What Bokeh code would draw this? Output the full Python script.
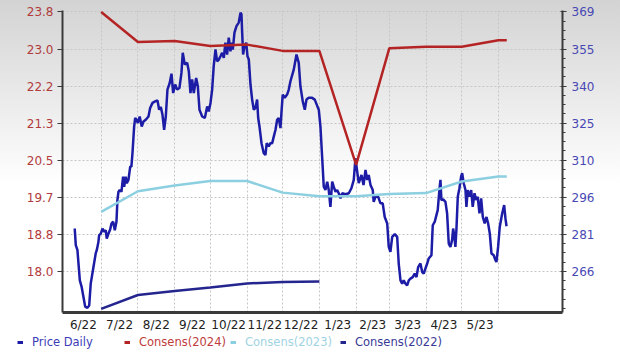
import numpy as np
import pandas as pd
from bokeh.plotting import figure
from bokeh.models import (Range1d, LinearAxis, FixedTicker, Legend, LegendItem,
                          InlineStyleSheet, ColumnDataSource)
from bokeh.core.properties import value
from bokeh.embed import file_html
from bokeh.resources import INLINE

# ---------------- data ----------------
BASE_DATE = "2022-07-01"   # price_day counts days after this date

price_day = [
    -22.3, -21.4, -20.0, -18.0, -16.4, -13.5, -11.6, -10.1, -8.8, -6.7,
    -4.6, -3.7, -2.3, -1.7, -0.3, 1.1, 2.5, 3.9, 4.7, 6.2,
    7.6, 8.7, 10.1, 11.5, 12.9, 13.7, 14.6, 15.7, 17.1, 18.5,
    19.4, 20.7, 21.6, 23.0, 24.5, 25.5, 26.4, 27.8, 28.7, 29.8,
    30.9, 32.5, 34.2, 35.7, 37.6, 39.9, 41.3, 43.3, 45.5, 47.5,
    48.9, 50.3, 51.7, 53.1, 54.5, 55.9, 57.8, 59.3, 60.7, 62.4,
    64.1, 66.0, 67.7, 68.8, 70.5, 72.5, 73.9, 75.3, 76.7, 78.1,
    80.1, 81.5, 82.9, 85.2, 87.4, 89.4, 90.7, 92.2, 93.6, 94.9,
    96.4, 97.8, 99.2, 100.6, 102.0, 103.4, 104.8, 106.2, 107.6, 109.0,
    109.9, 111.0, 112.4, 114.1, 116.0, 117.5, 118.3, 118.9, 119.7, 120.8,
    122.3, 123.4, 124.5, 125.9, 127.3, 128.7, 130.1, 131.5, 132.4, 133.5,
    135.2, 137.1, 138.5, 139.6, 141.3, 142.7, 144.2, 145.9, 147.0, 148.4,
    149.7, 151.2, 152.0, 153.1, 154.8, 156.8, 158.2, 159.6, 162.4, 164.7,
    166.6, 168.0, 170.0, 171.7, 173.1, 175.0, 177.9, 180.1, 182.1, 183.5,
    184.9, 186.3, 187.7, 189.1, 190.6, 191.9, 193.3, 194.8, 196.1, 197.6,
    199.0, 200.3, 201.8, 203.2, 206.0, 208.8, 211.0, 213.0, 214.4, 215.9,
    217.2, 219.5, 221.2, 222.9, 224.3, 225.6, 227.1, 229.0, 229.8, 231.3,
    233.6, 235.5, 237.4, 239.1, 241.2, 242.5, 243.9, 245.4, 247.6, 249.6,
    250.9, 252.4, 253.8, 255.1, 256.6, 258.0, 259.4, 260.8, 262.7, 264.4,
    265.9, 267.3, 269.2, 270.7, 272.0, 273.4, 274.9, 276.2, 278.5, 279.6,
    281.3, 282.7, 283.8, 285.2, 286.1, 286.9, 288.4, 290.3, 291.7, 293.1,
    294.5, 295.9, 296.8, 297.9, 298.7, 299.6, 300.7, 302.1, 303.5, 304.4,
    305.7, 307.2, 308.0, 309.1, 310.5, 312.0, 313.3, 314.8, 316.2, 317.5,
    319.0, 320.4, 321.8, 323.4, 324.9, 326.3, 327.7, 329.1, 331.0, 332.5,
    333.3, 334.7, 336.1, 338.1, 339.8, 340.9, 341.8,
]
price = [
    283.0, 276.4, 274.4, 262.4, 259.7, 252.0, 251.5, 252.4, 261.1, 267.1,
    273.1, 274.4, 277.7, 280.4, 281.0, 283.0, 281.7, 282.3, 279.0, 281.0,
    282.6, 285.0, 285.7, 282.3, 285.7, 294.3, 297.6, 298.3, 297.6, 303.6,
    299.6, 303.6, 301.0, 302.3, 307.6, 307.6, 312.9, 323.5, 326.9, 326.2,
    324.9, 327.5, 323.5, 325.5, 326.2, 327.5, 330.9, 332.9, 333.5, 333.9,
    330.2, 331.3, 328.2, 322.2, 327.5, 338.2, 340.8, 344.5, 336.8, 340.2,
    338.2, 338.8, 344.8, 352.8, 348.1, 348.8, 345.5, 336.8, 342.2, 336.8,
    342.8, 339.5, 330.2, 327.5, 326.9, 331.5, 329.5, 332.9, 338.2, 347.5,
    354.1, 349.4, 350.1, 351.4, 352.8, 350.8, 356.8, 352.1, 358.8, 353.4,
    356.8, 354.1, 360.8, 363.4, 364.8, 368.7, 368.1, 360.8, 352.1, 355.4,
    356.8, 351.4, 350.1, 340.2, 334.2, 330.2, 330.9, 334.2, 326.9, 323.5,
    316.9, 312.9, 312.2, 316.9, 315.6, 316.9, 316.9, 320.2, 322.2, 326.2,
    326.9, 322.9, 328.9, 336.2, 334.9, 336.2, 338.2, 341.5, 346.1, 352.1,
    348.8, 339.5, 333.5, 330.2, 334.2, 334.9, 334.9, 334.2, 331.8, 330.2,
    323.5, 311.6, 299.6, 298.3, 301.6, 298.3, 291.6, 301.6, 299.6, 297.6,
    298.3, 297.0, 295.0, 297.0, 296.6, 297.0, 299.0, 302.3, 310.9, 305.6,
    301.0, 304.3, 300.3, 306.3, 302.3, 304.3, 300.3, 298.3, 293.6, 295.6,
    295.6, 293.0, 293.0, 287.6, 285.0, 275.7, 273.7, 279.7, 280.8, 279.7,
    269.1, 262.4, 261.1, 262.4, 261.1, 260.4, 262.4, 263.1, 263.7, 265.1,
    263.7, 267.7, 269.1, 265.7, 265.1, 267.1, 269.1, 271.1, 272.4, 284.3,
    285.7, 288.3, 290.3, 298.3, 302.3, 294.3, 294.6, 293.6, 289.0, 277.0,
    275.7, 278.4, 283.0, 279.7, 275.7, 283.0, 295.6, 299.0, 303.6, 305.0,
    301.0, 298.3, 291.6, 298.3, 295.6, 298.3, 291.6, 297.0, 294.3, 295.6,
    289.0, 295.0, 287.6, 285.0, 287.6, 285.0, 281.0, 273.1, 272.4, 270.4,
    269.7, 275.7, 283.7, 288.9, 292.3, 287.0, 283.9,
]

cons_dates = ["2022-07-01", "2022-08-01", "2022-09-01", "2022-10-01", "2022-11-01",
              "2022-12-01", "2023-01-01", "2023-02-01", "2023-03-01", "2023-04-01",
              "2023-05-01", "2023-06-01", "2023-06-08"]
cons_2024 = [23.80, 23.13, 23.15, 23.04, 23.07, 22.93, 22.93, 20.38, 22.99, 23.02,
             23.02, 23.17, 23.17]
cons_2023 = [19.33, 19.79, 19.92, 20.02, 20.02, 19.76, 19.68, 19.68, 19.73, 19.75,
             20.01, 20.12, 20.12]
cons_2022_dates = ["2022-07-01", "2022-08-01", "2022-09-01", "2022-10-01", "2022-11-01",
                   "2022-12-01", "2023-01-01"]
cons_2022 = [17.16, 17.47, 17.56, 17.64, 17.73, 17.76, 17.77]

month_labels = ["6/22", "7/22", "8/22", "9/22", "10/22", "11/22", "12/22",
                "1/23", "2/23", "3/23", "4/23", "5/23"]
left_tick_labels = ["18.0", "18.8", "19.7", "20.5", "21.3", "22.2", "23.0", "23.8"]
right_tick_labels = ["266", "281", "296", "310", "325", "340", "355", "369"]
series_names = ["Price Daily", "Consens(2024)", "Consens(2023)", "Consens(2022)"]
series_colors = ["#1c1ca6", "#b52424", "#8ccfe0", "#25258f"]
legend_text_colors = ["#3c3cb8", "#c03c3c", "#9fd3e3", "#3a3a96"]

# ---------------- build ----------------
FONT = "DejaVu Sans"
base = pd.Timestamp(BASE_DATE)
price_dates = base + pd.to_timedelta(price_day, unit="D")

x_range = Range1d(start=base - pd.Timedelta(days=32.6), end=base + pd.Timedelta(days=389.0))
y_range = Range1d(start=17.079, end=23.833)

css = InlineStyleSheet(css=":host { background: linear-gradient(to bottom, #d3d3d3 0px, #ffffff 185px, #ffffff 400px); }")

p = figure(width=620, height=334, x_axis_type="datetime", x_range=x_range, y_range=y_range,
           output_backend="svg", toolbar_location=None,
           min_border_left=62, min_border_right=58, min_border_top=10, min_border_bottom=21,
           border_fill_color=None, background_fill_color=None, outline_line_color=None,
           stylesheets=[css])
p.extra_y_ranges = {"price": Range1d(start=249.65, end=369.59)}

# left axis (consensus)
lv = [round(float(v), 4) for v in np.linspace(float(left_tick_labels[0]), float(left_tick_labels[-1]), len(left_tick_labels))]
lticker = FixedTicker(ticks=lv)
ya = p.yaxis[0]
ya.ticker = lticker
ya.major_label_overrides = {v: s for v, s in zip(lv, left_tick_labels)}
ya.axis_line_width = 2
ya.axis_line_color = "#3a3a3a"
ya.major_tick_line_color = "#3a3a3a"
ya.major_tick_in = 0
ya.major_tick_out = 5
ya.minor_tick_line_color = None
ya.minor_tick_out = 0
ya.major_label_text_color = "#b03c3c"
ya.major_label_text_font = FONT
ya.major_label_text_font_size = "12px"
ya.major_label_standoff = 4

# right axis (price)
rv = [round(float(v), 4) for v in np.linspace(float(right_tick_labels[0]), float(right_tick_labels[-1]), len(right_tick_labels))]
rstep = (rv[1] - rv[0]) / 4.0
rminor = [round(rv[0] + j * rstep, 4) for j in range(-4, 30)]
rticker = FixedTicker(ticks=rv, minor_ticks=rminor)
ra = LinearAxis(y_range_name="price", ticker=rticker)
ra.major_label_overrides = {v: s for v, s in zip(rv, right_tick_labels)}
ra.axis_line_width = 2
ra.axis_line_color = "#3a3a3a"
ra.major_tick_line_color = "#3a3a3a"
ra.major_tick_in = 2
ra.major_tick_out = 4
ra.minor_tick_line_color = "#3a3a3a"
ra.minor_tick_in = 0
ra.minor_tick_out = 3
ra.major_label_text_color = "#4848b4"
ra.major_label_text_font = FONT
ra.major_label_text_font_size = "12px"
ra.major_label_standoff = 5
p.add_layout(ra, "right")

# x axis: labels centred in each month, grid at month starts
month_starts = pd.date_range("2022-06-01", periods=len(month_labels) + 1, freq="MS")
ms = [int(t.value // 10**6) for t in month_starts]
mid = [(a + b) // 2 for a, b in zip(ms[:-1], ms[1:])]
xa = p.xaxis[0]
xa.ticker = FixedTicker(ticks=mid)
xa.major_label_overrides = {m: s for m, s in zip(mid, month_labels)}
xa.axis_line_width = 3
xa.axis_line_color = "#3a3a3a"
xa.major_tick_line_color = None
xa.minor_tick_line_color = None
xa.major_tick_out = 0
xa.major_tick_in = 0
xa.minor_tick_out = 0
xa.minor_tick_in = 0
xa.major_label_text_color = "#222222"
xa.major_label_text_font = FONT
xa.major_label_text_font_size = "12px"
xa.major_label_standoff = 5

p.xgrid.ticker = FixedTicker(ticks=ms[1:])
p.ygrid.ticker = lticker
for g in (p.xgrid[0], p.ygrid[0]):
    g.grid_line_color = "#c6c6c6"
    g.grid_line_dash = "2 2"
    g.grid_line_width = 1

# series
src_price = ColumnDataSource(dict(x=price_dates, y=price))
src_c = ColumnDataSource(dict(x=pd.to_datetime(cons_dates), c24=cons_2024, c23=cons_2023))
src_c22 = ColumnDataSource(dict(x=pd.to_datetime(cons_2022_dates), y=cons_2022))

p.line("x", "y", source=src_price, y_range_name="price", line_color=series_colors[0], line_width=2.5)
p.line("x", "c23", source=src_c, line_color=series_colors[2], line_width=2.5)
p.line("x", "y", source=src_c22, line_color=series_colors[3], line_width=2.5)
p.line("x", "c24", source=src_c, line_color=series_colors[1], line_width=2.5)

# legend strip below the chart (its own root, so the legend is not clipped)
lg = figure(width=620, height=18, x_range=Range1d(0, 1), y_range=Range1d(0, 1),
            output_backend="svg", toolbar_location=None,
            x_axis_location=None, y_axis_location=None,
            min_border_left=0, min_border_right=0, min_border_top=0, min_border_bottom=0,
            border_fill_color=None, background_fill_color=None, outline_line_color=None)
lg.xgrid.visible = False
lg.ygrid.visible = False

legend_x = [17, 124, 230, 340]
for name, col, tcol, xoff in zip(series_names, series_colors, legend_text_colors, legend_x):
    key = lg.line(x=[np.nan], y=[np.nan], line_color=col, line_width=3)
    leg = Legend(items=[LegendItem(label=value(name), renderers=[key], index=0)],
                 location=(xoff, 3), orientation="horizontal",
                 padding=0, margin=0, spacing=0,
                 glyph_width=6, glyph_height=14, label_height=14, label_standoff=9,
                 label_text_font=FONT, label_text_font_size="11.5px",
                 label_text_color=tcol, border_line_color=None,
                 background_fill_alpha=0)
    lg.add_layout(leg)

open("out.html", "w").write(file_html([p, lg], INLINE))
